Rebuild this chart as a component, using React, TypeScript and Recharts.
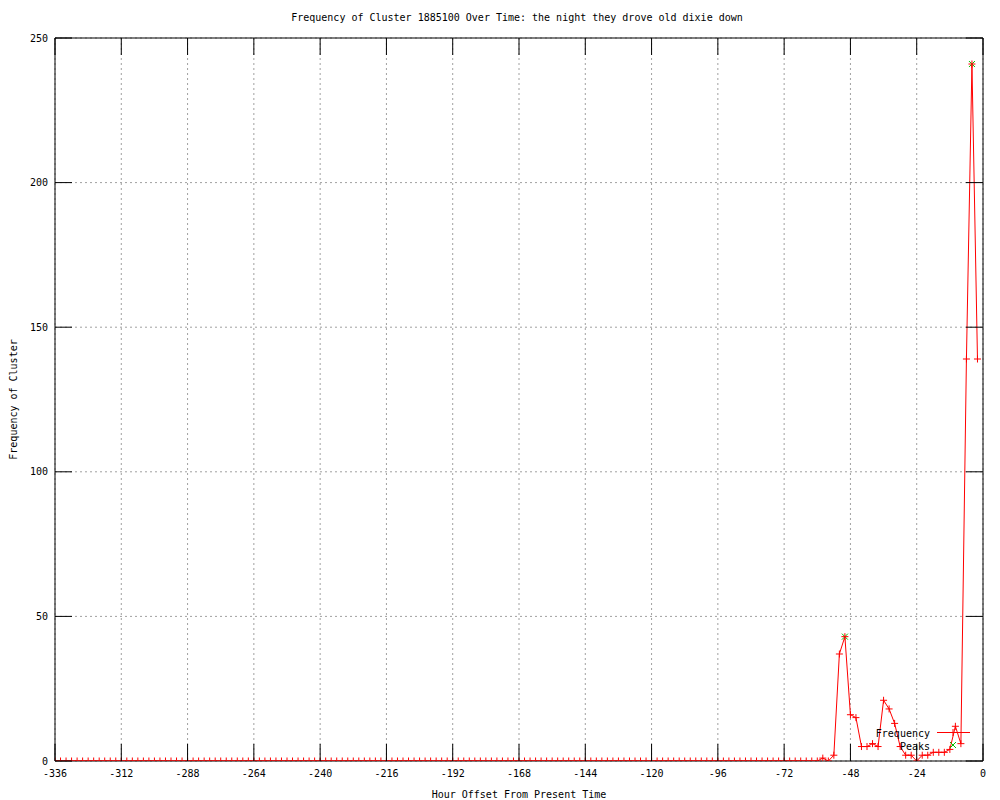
import React from 'react';
import { ComposedChart, Line, Scatter, XAxis, YAxis, CartesianGrid, Legend } from 'recharts';

const hours = [
  -336, -334, -332, -330, -328, -326, -324, -322, -320, -318, -316, -314,
  -312, -310, -308, -306, -304, -302, -300, -298, -296, -294, -292, -290,
  -288, -286, -284, -282, -280, -278, -276, -274, -272, -270, -268, -266,
  -264, -262, -260, -258, -256, -254, -252, -250, -248, -246, -244, -242,
  -240, -238, -236, -234, -232, -230, -228, -226, -224, -222, -220, -218,
  -216, -214, -212, -210, -208, -206, -204, -202, -200, -198, -196, -194,
  -192, -190, -188, -186, -184, -182, -180, -178, -176, -174, -172, -170,
  -168, -166, -164, -162, -160, -158, -156, -154, -152, -150, -148, -146,
  -144, -142, -140, -138, -136, -134, -132, -130, -128, -126, -124, -122,
  -120, -118, -116, -114, -112, -110, -108, -106, -104, -102, -100, -98,
  -96, -94, -92, -90, -88, -86, -84, -82, -80, -78, -76, -74,
  -72, -70, -68, -66, -64, -62, -60, -58, -56, -54, -52, -50,
  -48, -46, -44, -42, -40, -38, -36, -34, -32, -30, -28, -26,
  -24, -22, -20, -18, -16, -14, -12, -10, -8, -6, -4, -2,
];

const frequency = [
  0, 0, 0, 0, 0, 0, 0, 0, 0, 0, 0, 0,
  0, 0, 0, 0, 0, 0, 0, 0, 0, 0, 0, 0,
  0, 0, 0, 0, 0, 0, 0, 0, 0, 0, 0, 0,
  0, 0, 0, 0, 0, 0, 0, 0, 0, 0, 0, 0,
  0, 0, 0, 0, 0, 0, 0, 0, 0, 0, 0, 0,
  0, 0, 0, 0, 0, 0, 0, 0, 0, 0, 0, 0,
  0, 0, 0, 0, 0, 0, 0, 0, 0, 0, 0, 0,
  0, 0, 0, 0, 0, 0, 0, 0, 0, 0, 0, 0,
  0, 0, 0, 0, 0, 0, 0, 0, 0, 0, 0, 0,
  0, 0, 0, 0, 0, 0, 0, 0, 0, 0, 0, 0,
  0, 0, 0, 0, 0, 0, 0, 0, 0, 0, 0, 0,
  0, 0, 0, 0, 0, 0, 0, 1, 0, 2, 37, 43,
  16, 15, 5, 5, 6, 5, 21, 18, 13, 5, 2, 2,
  0, 2, 2, 3, 3, 3, 4, 12, 6, 139, 241, 139,
];

const peakHours = [-50, -4];
const peakValues = [43, 241];

const xTicks = [-336, -312, -288, -264, -240, -216, -192, -168, -144, -120, -96, -72, -48, -24, 0];
const yTicks = [0, 50, 100, 150, 200, 250];

const TITLE = 'Frequency of Cluster 1885100 Over Time: the night they drove old dixie down';
const X_LABEL = 'Hour Offset From Present Time';
const Y_LABEL = 'Frequency of Cluster';

const FONT = '"DejaVu Sans Mono", "Liberation Mono", monospace';
const RED = '#ff0000';
const GREEN = '#00c000';
const TIC = 17;

const freqData = hours.map((h, i) => ({ hour: h, freq: frequency[i] }));
const peakData = peakHours.map((h, i) => ({ hour: h, peak: peakValues[i] }));

const PlusDot = (props: any) => {
  const { cx, cy, index } = props;
  if (cx == null || cy == null) return <g key={`p${index}`} />;
  const s = 3.5;
  return (
    <path
      key={`p${index}`}
      d={`M${cx - s},${cy}H${cx + s}M${cx},${cy - s}V${cy + s}`}
      stroke={RED}
      strokeWidth={1}
      fill="none"
    />
  );
};

const CrossShape = (props: any) => {
  const { cx, cy } = props;
  const s = 3;
  return (
    <path
      d={`M${cx - s},${cy - s}L${cx + s},${cy + s}M${cx - s},${cy + s}L${cx + s},${cy - s}`}
      stroke={GREEN}
      strokeWidth={1}
      fill="none"
    />
  );
};

const BottomTick = (props: any) => {
  const { x, y, payload } = props;
  return (
    <g>
      <line x1={x} x2={x} y1={y} y2={y - TIC} stroke="#000" strokeWidth={1} />
      <text x={x} y={y + 15.5} textAnchor="middle" fontFamily={FONT} fontSize={10} fill="#000">
        {payload.value}
      </text>
    </g>
  );
};

const TopTick = (props: any) => {
  const { x, y } = props;
  return <line x1={x} x2={x} y1={y} y2={y + TIC} stroke="#000" strokeWidth={1} />;
};

const LeftTick = (props: any) => {
  const { x, y, payload } = props;
  return (
    <g>
      <line x1={x} x2={x + TIC} y1={y} y2={y} stroke="#000" strokeWidth={1} />
      <text x={x - 7} y={y + 3.6} textAnchor="end" fontFamily={FONT} fontSize={10} fill="#000">
        {payload.value}
      </text>
    </g>
  );
};

const RightTick = (props: any) => {
  const { x, y } = props;
  return <line x1={x} x2={x - TIC} y1={y} y2={y} stroke="#000" strokeWidth={1} />;
};

const LegendContent = () => (
  <svg width={125} height={30} style={{ display: 'block', overflow: 'visible' }}>
    <text x={70} y={12.5} textAnchor="end" fontFamily={FONT} fontSize={10} fill="#000">Frequency</text>
    <line x1={77} x2={110} y1={8.5} y2={8.5} stroke={RED} strokeWidth={1} />
    <path d="M89.5,8.5H96.5M93,5V12" stroke={RED} strokeWidth={1} fill="none" />
    <text x={70} y={25.5} textAnchor="end" fontFamily={FONT} fontSize={10} fill="#000">Peaks</text>
    <path d="M90,18L96,24M90,24L96,18" stroke={GREEN} strokeWidth={1} fill="none" />
  </svg>
);

export default function App() {
  return (
    <div style={{ position: 'absolute', left: 0, top: 0, width: 1000, height: 800, background: '#fff' }}>
      <div
        style={{
          position: 'absolute',
          left: 0,
          top: 12,
          width: 1034,
          textAlign: 'center',
          fontFamily: FONT,
          fontSize: 10,
          lineHeight: '12px',
          color: '#000',
          whiteSpace: 'nowrap',
        }}
      >
        {TITLE}
      </div>
      <ComposedChart
        width={1000}
        height={800}
        data={freqData}
        margin={{ top: 37, right: 16, bottom: 0, left: 0 }}
      >
        <CartesianGrid
          stroke="#a0a0a0"
          strokeDasharray="2 3"
          xAxisId="bottom"
          yAxisId="left"
        />
        <XAxis
          xAxisId="bottom"
          dataKey="hour"
          type="number"
          domain={[-336, 0]}
          ticks={xTicks}
          interval={0}
          allowDataOverflow
          height={39}
          tickSize={0}
          tickMargin={0}
          tickLine={false}
          tick={BottomTick}
          axisLine={{ stroke: '#000' }}
          label={{ value: X_LABEL, position: 'insideBottom', offset: 2, style: { fontFamily: FONT, fontSize: 10, fill: '#000' } }}
        />
        <XAxis
          xAxisId="top"
          orientation="top"
          dataKey="hour"
          type="number"
          domain={[-336, 0]}
          ticks={xTicks}
          interval={0}
          allowDataOverflow
          height={1}
          tickSize={0}
          tickMargin={0}
          tickLine={false}
          tick={TopTick}
          axisLine={{ stroke: '#000' }}
        />
        <YAxis
          yAxisId="left"
          type="number"
          domain={[0, 250]}
          ticks={yTicks}
          interval={0}
          allowDataOverflow
          width={55}
          tickSize={0}
          tickMargin={0}
          tickLine={false}
          tick={LeftTick}
          axisLine={{ stroke: '#000' }}
          label={{ value: Y_LABEL, angle: -90, position: 'insideLeft', offset: 13, style: { textAnchor: 'middle', fontFamily: FONT, fontSize: 10, fill: '#000' } }}
        />
        <YAxis
          yAxisId="right"
          orientation="right"
          type="number"
          domain={[0, 250]}
          ticks={yTicks}
          interval={0}
          allowDataOverflow
          width={1}
          tickSize={0}
          tickMargin={0}
          tickLine={false}
          tick={RightTick}
          axisLine={{ stroke: '#000' }}
        />
        <Legend
          layout="horizontal"
          verticalAlign="middle"
          align="center"
          wrapperStyle={{ position: 'absolute', left: 860, top: 724, width: 125, height: 30 }}
          content={LegendContent}
        />
        <Line
          xAxisId="bottom"
          yAxisId="left"
          dataKey="freq"
          type="linear"
          stroke={RED}
          strokeWidth={1}
          dot={PlusDot}
          activeDot={false}
          isAnimationActive={false}
          name="Frequency"
        />
        <Scatter
          xAxisId="top"
          yAxisId="right"
          data={peakData}
          dataKey="peak"
          shape={CrossShape}
          isAnimationActive={false}
          name="Peaks"
        />
      </ComposedChart>
    </div>
  );
}
